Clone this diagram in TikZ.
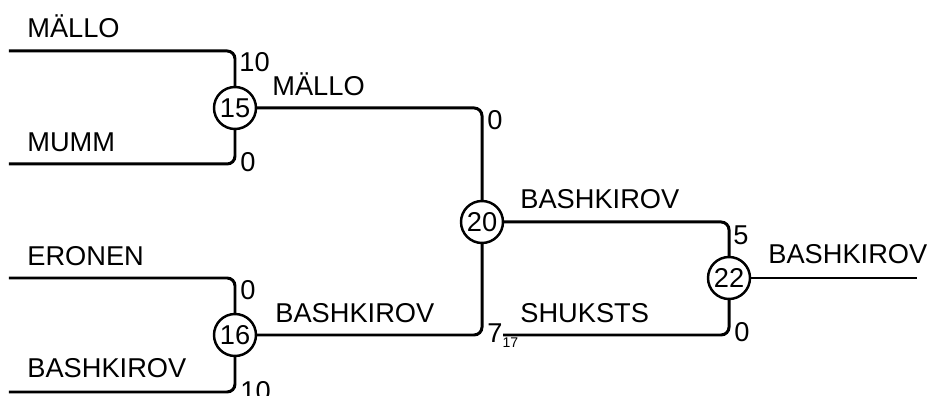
\documentclass[tikz,border=0pt]{standalone}
\usepackage{fontspec}
\setmainfont{Liberation Sans}
\begin{document}
\begin{tikzpicture}
    \tikzstyle{bout}    = [shape = circle, draw = black, line width=1.4pt, minimum size=0.84cm, inner sep=0pt, font=\fontsize{15.5}{18}\selectfont]
    \tikzstyle{player}  = [anchor = base west, inner sep=0pt, font=\fontsize{15.5}{18}\selectfont]
    \tikzstyle{score}   = [inner sep=0pt, font=\fontsize{15.5}{18}\selectfont]
    \tikzstyle{bracket} = [line width=1.7pt, rounded corners=4.5pt]

    \useasboundingbox (0,0) rectangle (18.66,7.92);

    % entries on the left
    \coordinate (p1) at (0.18, 6.90);
    \coordinate (p2) at (0.18, 4.64);
    \coordinate (p3) at (0.18, 2.36);
    \coordinate (p4) at (0.18, 0.08);
    \coordinate (q1) at (10.06, 1.22);
    \coordinate (r1) at (18.34, 2.36);

    \node[bout] at (4.70, 5.76) (m15) {15};
    \node[bout] at (4.70, 1.22) (m16) {16};
    \node[bout] at (9.64, 3.48) (m20) {20};
    \node[bout] at (14.58, 2.36) (m22) {22};

    \node[player] at (0.54,  7.16) (n_mallo)  {MÄLLO};
    \node[player] at (0.54,  4.88) (n_mumm)   {MUMM};
    \node[player] at (0.54,  2.60) (n_eronen) {ERONEN};
    \node[player] at (0.54,  0.36) (n_bash)   {BASHKIROV};

    \node[player] at (5.44,  6.00) (w15) {MÄLLO};
    \node[player] at (5.50,  1.46) (w16) {BASHKIROV};
    \node[player] at (10.40, 3.74) (w20) {BASHKIROV};
    \node[player] at (10.40, 1.46) (n_shuk) {SHUKSTS};
    \node[player] at (15.36, 2.64) (w22) {BASHKIROV};

    \node[score, anchor=north west] at (4.78, 6.88) (s15a) {10};
    \node[score, anchor=west]       at (4.80, 4.67) (s15b) {0};
    \node[score, anchor=north west] at (4.80, 2.32) (s16a) {0};
    \node[score, anchor=west]       at (4.80, 0.10) (s16b) {10};
    \node[score, anchor=north west] at (9.74, 5.72) (s20a) {0};
    \node[score, anchor=base west]  at (9.74, 1.06) (s20b) {7\raisebox{-0.1cm}{\fontsize{8}{9}\selectfont 17}};
    \node[score, anchor=north west] at (14.66, 3.42) (s22a) {5};
    \node[score, anchor=west]       at (14.68, 1.27) (s22b) {0};

    \draw[bracket]
      (p1) -| (m15)
      (p2) -| (m15)
      (p3) -| (m16)
      (p4) -| (m16)
      (m15) -| (m20)
      (m16) -| (m20)
      (m20) -| (m22)
      (q1) -| (m22)
    ;
    \draw[bracket] (m22) -- (r1);
  \end{tikzpicture}
\end{document}
